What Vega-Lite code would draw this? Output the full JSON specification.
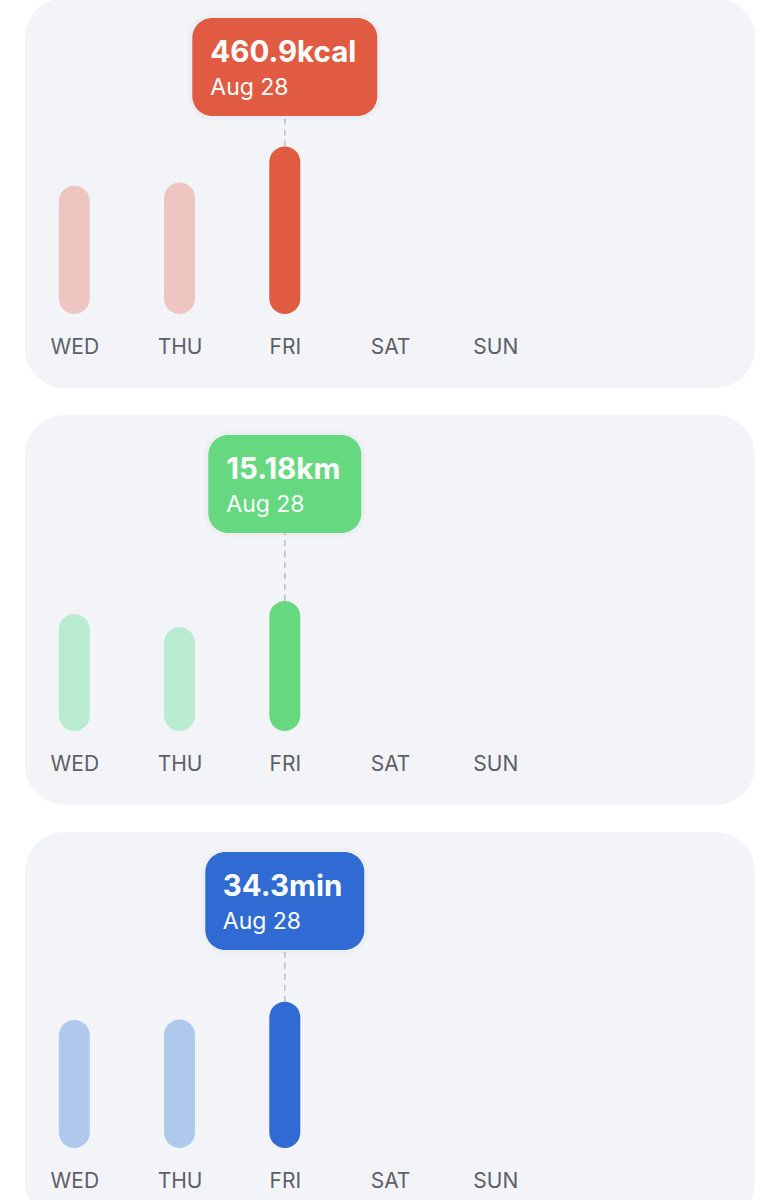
{
  "$schema": "https://vega.github.io/schema/vega-lite/v6.json",
  "background": "white",
  "padding": {"left": 25, "right": 25, "top": -2, "bottom": 0},
  "spacing": 27,
  "datasets": {
    "bars": [
      {"metric": "kcal", "day": "WED", "value": 352.8},
      {"metric": "kcal", "day": "THU", "value": 361.9},
      {"metric": "kcal", "day": "FRI", "value": 460.9},
      {"metric": "km", "day": "WED", "value": 13.66},
      {"metric": "km", "day": "THU", "value": 12.11},
      {"metric": "km", "day": "FRI", "value": 15.18},
      {"metric": "min", "day": "WED", "value": 30.0},
      {"metric": "min", "day": "THU", "value": 30.15},
      {"metric": "min", "day": "FRI", "value": 34.3}
    ],
    "tips": [
      {"metric": "kcal", "day": "FRI", "value": 460.9, "label": "460.9kcal", "date": "Aug 28"},
      {"metric": "km", "day": "FRI", "value": 15.18, "label": "15.18km", "date": "Aug 28"},
      {"metric": "min", "day": "FRI", "value": 34.3, "label": "34.3min", "date": "Aug 28"}
    ]
  },
  "config": {
    "view": {"fill": "#F3F4F8", "stroke": null, "cornerRadius": 40},
    "font": "Inter"
  },
  "vconcat": [
    {
      "width": 730, "height": 390,
      "layer": [
        {"data": {"name": "bars"}, "transform": [{"filter": "datum.metric === 'kcal'"}],
          "mark": {"type": "bar", "width": 31, "cornerRadius": 15.5},
          "encoding": {
            "x": {"field": "day", "type": "ordinal", "sort": null,
              "scale": {"type": "point", "domain": ["WED", "THU", "FRI", "SAT", "SUN"], "range": [49.3, 470.3], "padding": 0},
              "axis": {"orient": "bottom", "offset": -35, "domain": false, "ticks": false, "tickSize": 0, "grid": false, "labelPadding": 0, "labelBaseline": "alphabetic", "labelAngle": 0, "labelFontSize": 21, "labelFont": "Inter", "labelColor": "#5C5F66", "title": null}},
            "y": {"field": "value", "type": "quantitative", "scale": {"domain": [-203.5, 869.1], "nice": false, "zero": false}, "axis": null},
            "y2": {"datum": 0},
            "color": {"condition": {"test": "datum.day === 'FRI'", "value": "#E05B42"}, "value": "#EEC5C0"}
          }},
        {"data": {"name": "tips"}, "transform": [{"filter": "datum.metric === 'kcal'"}],
          "mark": {"type": "rule", "strokeDash": [6, 5], "strokeWidth": 1.5, "color": "#BDBDC2"},
          "encoding": {"x": {"field": "day", "type": "ordinal"}, "y": {"field": "value", "type": "quantitative"}, "y2": {"datum": 544.6}}},
        {"data": {"name": "tips"}, "transform": [{"filter": "datum.metric === 'kcal'"}],
          "mark": {"type": "bar", "width": 193, "cornerRadius": 24, "color": "#000000", "opacity": 0.02},
          "encoding": {"x": {"field": "day", "type": "ordinal"}, "y": {"datum": 825.0, "type": "quantitative"}, "y2": {"datum": 533.0}}},
        {"data": {"name": "tips"}, "transform": [{"filter": "datum.metric === 'kcal'"}],
          "mark": {"type": "bar", "width": 185, "cornerRadius": 20, "color": "#E05B42"},
          "encoding": {"x": {"field": "day", "type": "ordinal"}, "y": {"datum": 814.1, "type": "quantitative"}, "y2": {"datum": 544.6}}},
        {"data": {"name": "tips"}, "transform": [{"filter": "datum.metric === 'kcal'"}],
          "mark": {"type": "text", "align": "left", "baseline": "alphabetic", "dx": -74.5, "fontSize": 29.5, "fontWeight": "bold", "font": "Inter", "color": "white"},
          "encoding": {"x": {"field": "day", "type": "ordinal"}, "y": {"datum": 693.1, "type": "quantitative"}, "text": {"field": "label"}}},
        {"data": {"name": "tips"}, "transform": [{"filter": "datum.metric === 'kcal'"}],
          "mark": {"type": "text", "align": "left", "baseline": "alphabetic", "dx": -74.5, "fontSize": 23, "font": "Inter", "color": "white"},
          "encoding": {"x": {"field": "day", "type": "ordinal"}, "y": {"datum": 602.3, "type": "quantitative"}, "text": {"field": "date"}}}
      ]
    },
    {
      "width": 730, "height": 390,
      "layer": [
        {"data": {"name": "bars"}, "transform": [{"filter": "datum.metric === 'km'"}],
          "mark": {"type": "bar", "width": 31, "cornerRadius": 15.5},
          "encoding": {
            "x": {"field": "day", "type": "ordinal", "sort": null,
              "scale": {"type": "point", "domain": ["WED", "THU", "FRI", "SAT", "SUN"], "range": [49.3, 470.3], "padding": 0},
              "axis": {"orient": "bottom", "offset": -35, "domain": false, "ticks": false, "tickSize": 0, "grid": false, "labelPadding": 0, "labelBaseline": "alphabetic", "labelAngle": 0, "labelFontSize": 21, "labelFont": "Inter", "labelColor": "#5C5F66", "title": null}},
            "y": {"field": "value", "type": "quantitative", "scale": {"domain": [-8.641, 36.90], "nice": false, "zero": false}, "axis": null},
            "y2": {"datum": 0},
            "color": {"condition": {"test": "datum.day === 'FRI'", "value": "#66D980"}, "value": "#B9EBD3"}
          }},
        {"data": {"name": "tips"}, "transform": [{"filter": "datum.metric === 'km'"}],
          "mark": {"type": "rule", "strokeDash": [6, 5], "strokeWidth": 1.5, "color": "#BDBDC2"},
          "encoding": {"x": {"field": "day", "type": "ordinal"}, "y": {"field": "value", "type": "quantitative"}, "y2": {"datum": 23.12}}},
        {"data": {"name": "tips"}, "transform": [{"filter": "datum.metric === 'km'"}],
          "mark": {"type": "bar", "width": 161, "cornerRadius": 24, "color": "#000000", "opacity": 0.02},
          "encoding": {"x": {"field": "day", "type": "ordinal"}, "y": {"datum": 35.03, "type": "quantitative"}, "y2": {"datum": 22.65}}},
        {"data": {"name": "tips"}, "transform": [{"filter": "datum.metric === 'km'"}],
          "mark": {"type": "bar", "width": 153, "cornerRadius": 20, "color": "#66D980"},
          "encoding": {"x": {"field": "day", "type": "ordinal"}, "y": {"datum": 34.56, "type": "quantitative"}, "y2": {"datum": 23.12}}},
        {"data": {"name": "tips"}, "transform": [{"filter": "datum.metric === 'km'"}],
          "mark": {"type": "text", "align": "left", "baseline": "alphabetic", "dx": -58.5, "fontSize": 29.5, "fontWeight": "bold", "font": "Inter", "color": "white"},
          "encoding": {"x": {"field": "day", "type": "ordinal"}, "y": {"datum": 29.43, "type": "quantitative"}, "text": {"field": "label"}}},
        {"data": {"name": "tips"}, "transform": [{"filter": "datum.metric === 'km'"}],
          "mark": {"type": "text", "align": "left", "baseline": "alphabetic", "dx": -58.5, "fontSize": 23, "font": "Inter", "color": "white"},
          "encoding": {"x": {"field": "day", "type": "ordinal"}, "y": {"datum": 25.57, "type": "quantitative"}, "text": {"field": "date"}}}
      ]
    },
    {
      "width": 730, "height": 390,
      "layer": [
        {"data": {"name": "bars"}, "transform": [{"filter": "datum.metric === 'min'"}],
          "mark": {"type": "bar", "width": 31, "cornerRadius": 15.5},
          "encoding": {
            "x": {"field": "day", "type": "ordinal", "sort": null,
              "scale": {"type": "point", "domain": ["WED", "THU", "FRI", "SAT", "SUN"], "range": [49.3, 470.3], "padding": 0},
              "axis": {"orient": "bottom", "offset": -35, "domain": false, "ticks": false, "tickSize": 0, "grid": false, "labelPadding": 0, "labelBaseline": "alphabetic", "labelAngle": 0, "labelFontSize": 21, "labelFont": "Inter", "labelColor": "#5C5F66", "title": null}},
            "y": {"field": "value", "type": "quantitative", "scale": {"domain": [-17.35, 74.09], "nice": false, "zero": false}, "axis": null},
            "y2": {"datum": 0},
            "color": {"condition": {"test": "datum.day === 'FRI'", "value": "#2F6BD3"}, "value": "#AFC9EC"}
          }},
        {"data": {"name": "tips"}, "transform": [{"filter": "datum.metric === 'min'"}],
          "mark": {"type": "rule", "strokeDash": [6, 5], "strokeWidth": 1.5, "color": "#BDBDC2"},
          "encoding": {"x": {"field": "day", "type": "ordinal"}, "y": {"field": "value", "type": "quantitative"}, "y2": {"datum": 46.42}}},
        {"data": {"name": "tips"}, "transform": [{"filter": "datum.metric === 'min'"}],
          "mark": {"type": "bar", "width": 167, "cornerRadius": 24, "color": "#000000", "opacity": 0.02},
          "encoding": {"x": {"field": "day", "type": "ordinal"}, "y": {"datum": 70.34, "type": "quantitative"}, "y2": {"datum": 45.48}}},
        {"data": {"name": "tips"}, "transform": [{"filter": "datum.metric === 'min'"}],
          "mark": {"type": "bar", "width": 159, "cornerRadius": 20, "color": "#2F6BD3"},
          "encoding": {"x": {"field": "day", "type": "ordinal"}, "y": {"datum": 69.40, "type": "quantitative"}, "y2": {"datum": 46.42}}},
        {"data": {"name": "tips"}, "transform": [{"filter": "datum.metric === 'min'"}],
          "mark": {"type": "text", "align": "left", "baseline": "alphabetic", "dx": -62, "fontSize": 29.5, "fontWeight": "bold", "font": "Inter", "color": "white"},
          "encoding": {"x": {"field": "day", "type": "ordinal"}, "y": {"datum": 59.09, "type": "quantitative"}, "text": {"field": "label"}}},
        {"data": {"name": "tips"}, "transform": [{"filter": "datum.metric === 'min'"}],
          "mark": {"type": "text", "align": "left", "baseline": "alphabetic", "dx": -62, "fontSize": 23, "font": "Inter", "color": "white"},
          "encoding": {"x": {"field": "day", "type": "ordinal"}, "y": {"datum": 51.35, "type": "quantitative"}, "text": {"field": "date"}}}
      ]
    }
  ]
}
